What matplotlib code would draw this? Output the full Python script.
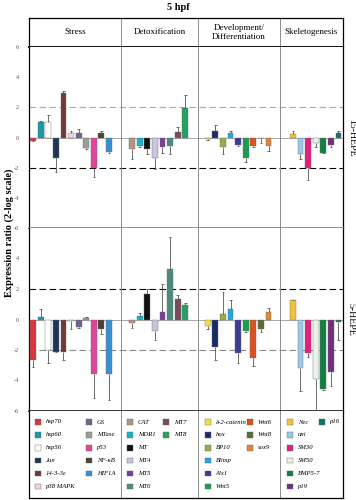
import matplotlib.pyplot as plt
from matplotlib.patches import Rectangle
import numpy as np

plt.rcParams['font.family'] = ['Liberation Serif', 'DejaVu Serif']

# ---------------------------------------------------------------------
# data
# ---------------------------------------------------------------------
GROUPS = ["Stress", "Detoxification", "Development/\nDifferentiation", "Skeletogenesis"]

stress_genes = ["hsp70", "hsp60", "hsp56", "Jun", "14-3-3ε", "p38 MAPK",
                "GS", "MTase", "p53", "NF-κB", "HIF1A"]
stress_colors = ["#d8363f", "#1a9aa6", "#ffffff", "#1f3558", "#6e3b36", "#f1d3de",
                 "#6a6590", "#9c9c9c", "#e2449b", "#4a4232", "#3a8fd2"]
stress_15 = [-0.2, 1.0, 1.05, -1.35, 2.95, 0.27, 0.3, -0.68, -2.0, 0.27, -0.95]
stress_15_err = [0.05, 0.1, 0.45, 0.95, 0.1, 0.15, 0.28, 0.05, 0.6, 0.18, 0.1]
stress_5 = [-2.65, 0.15, -2.0, -2.1, -2.15, -0.08, -0.5, 0.08, -3.57, -0.62, -3.57]
stress_5_err = [0.45, 0.55, 0.87, 0.05, 0.5, 0.52, 0.05, 0.07, 1.6, 0.33, 1.7]

detox_genes = ["CAT", "MDR1", "MT", "MT4", "MT5", "MT6", "MT7", "MT8"]
detox_colors = ["#b39383", "#1ab2c9", "#111111", "#c9c5dd", "#7b3d9b",
                "#4b8b80", "#7a4a5c", "#22a262"]
detox_15 = [-0.75, -0.57, -0.75, -1.35, -0.65, -0.57, 0.38, 1.97]
detox_15_err = [0.65, 0.08, 0.37, 0.75, 0.35, 0.53, 0.32, 0.88]
detox_5 = [-0.24, 0.2, 1.64, -0.77, 0.46, 3.33, 1.36, 0.92]
detox_5_err = [0.31, 0.24, 0.38, 0.55, 1.89, 2.07, 0.22, 0.18]

dev_genes = ["δ-2-catenin", "hox", "BP10", "Blimp", "Alx1", "Wnt5",
             "Wnt6", "Wnt8", "sox9"]
dev_colors = ["#f0e23e", "#1b2a68", "#92b044", "#22a8e0", "#3b3c98",
              "#18a052", "#d85222", "#5a6a32", "#e48332"]
dev_15 = [-0.13, 0.46, -0.64, 0.31, -0.53, -1.35, -0.57, -0.05, -0.57]
dev_15_err = [0.05, 0.4, 0.44, 0.11, 0.03, 0.28, 0.08, 0.3, 0.33]
dev_5 = [-0.4, -1.78, 0.37, 0.66, -2.2, -0.77, -2.52, -0.61, 0.48]
dev_5_err = [0.2, 0.85, 1.43, 0.64, 0.65, 0.05, 0.55, 0.19, 0.26]

skel_genes = ["Nec", "uni", "SM30", "SM50", "BMP5-7", "p19", "p16"]
skel_colors = ["#f2c433", "#9ac9ea", "#e2207c", "#e9f1e9", "#108142",
               "#71307f", "#12706f"]
skel_15 = [0.24, -1.12, -2.0, -0.35, -1.0, -0.53, 0.27]
skel_15_err = [0.18, 0.28, 0.83, 0.3, 0.05, 0.07, 0.19]
skel_5 = [1.25, -3.18, -2.2, -3.9, -4.56, -3.47, -0.18]
skel_5_err = [0.05, 1.49, 0.28, 2.08, 0.05, 0.87, 1.14]

genes = [stress_genes, detox_genes, dev_genes, skel_genes]
colors = [stress_colors, detox_colors, dev_colors, skel_colors]
vals_15 = [stress_15, detox_15, dev_15, skel_15]
errs_15 = [stress_15_err, detox_15_err, dev_15_err, skel_15_err]
vals_5 = [stress_5, detox_5, dev_5, skel_5]
errs_5 = [stress_5_err, detox_5_err, dev_5_err, skel_5_err]

# ---------------------------------------------------------------------
# layout (pixel-like units along x)
# ---------------------------------------------------------------------
COL_W = [92, 77, 82, 63]
FIRST = [4, 11, 9.7, 12.8]
SLOT = 7.6
BAR_W = 5.8
XMAX = sum(COL_W)
col_left = np.concatenate([[0], np.cumsum(COL_W)[:-1]])
bounds = np.cumsum(COL_W)[:-1]
SEP = "#8c8c8c"

fig = plt.figure(figsize=(3.56, 5.0), dpi=100)
L, W = 29 / 356, 314 / 356


def band(top, bottom):
    return [L, 1 - bottom / 500, W, (bottom - top) / 500]


ax_head = fig.add_axes(band(18, 47))
ax_up = fig.add_axes(band(47, 228))
ax_lo = fig.add_axes(band(228, 411))
ax_leg = fig.add_axes(band(411, 498))

# header
ax_head.set_xlim(0, XMAX)
ax_head.set_ylim(0, 1)
ax_head.set_xticks([])
ax_head.set_yticks([])
for b in bounds:
    ax_head.axvline(b, color=SEP, lw=0.7)
for g, name in enumerate(GROUPS):
    ax_head.text(col_left[g] + COL_W[g] / 2, 0.5, name, ha="center", va="center",
                 fontsize=6.5, linespacing=1.1)
for s in ax_head.spines.values():
    s.set_color("black")
    s.set_linewidth(0.9)
ax_head.spines["bottom"].set_linewidth(1.3)


def draw_panel(ax, vals, errs, label, yticks, dash_top, dash_bot):
    ax.set_xlim(0, XMAX)
    ax.set_ylim(-6, 6)
    ax.axhline(0, color="#9a9a9a", lw=0.6, zorder=1)
    ax.axhline(2, color=dash_top, lw=0.8, ls=(0, (6, 3)), zorder=1)
    ax.axhline(-2, color=dash_bot, lw=0.8, ls=(0, (6, 3)), zorder=1)
    for b in bounds:
        ax.axvline(b, color=SEP, lw=0.7, zorder=1)
    for g in range(len(GROUPS)):
        xs = col_left[g] + FIRST[g] + SLOT * np.arange(len(vals[g]))
        v = np.array(vals[g])
        e = np.array(errs[g])
        ax.bar(xs, v, width=BAR_W, color=colors[g], edgecolor="#707070",
               linewidth=0.3, zorder=3)
        sign = np.where(v < 0, -1, 1)
        ends = v + sign * e
        ax.vlines(xs, v, ends, color="#555555", lw=0.6, zorder=4)
        ax.hlines(ends, xs - 1.3, xs + 1.3, color="#555555", lw=0.6, zorder=4)
    ax.set_xticks([])
    ax.set_yticks(yticks)
    ax.set_yticklabels([str(t) for t in yticks])
    ax.tick_params(axis="y", length=0, pad=7, labelsize=4.5, labelcolor="#555555")
    ax.text(1.012, 0.5, label, transform=ax.transAxes, rotation=270,
            ha="left", va="center", fontsize=7)
    for s in ("left", "right"):
        ax.spines[s].set_color("black")
        ax.spines[s].set_linewidth(0.9)


draw_panel(ax_up, vals_15, errs_15, "15-HEPE", [-6, -4, -2, 0, 2, 4, 6],
           "#aaaaaa", "black")
ax_up.spines["top"].set_visible(False)
ax_up.spines["bottom"].set_color("#8a8a8a")
ax_up.spines["bottom"].set_linewidth(1.3)

draw_panel(ax_lo, vals_5, errs_5, "5-HEPE", [-6, -4, -2, 0, 2, 4],
           "black", "#888888")
ax_lo.spines["top"].set_visible(False)
ax_lo.spines["bottom"].set_color("black")
ax_lo.spines["bottom"].set_linewidth(1.1)

# legend
ax_leg.set_xlim(0, XMAX)
ax_leg.set_ylim(87, 0)
ax_leg.set_xticks([])
ax_leg.set_yticks([])
for b in bounds:
    ax_leg.axvline(b, color=SEP, lw=0.7)
for s in ax_leg.spines.values():
    s.set_color("black")
    s.set_linewidth(0.9)
ax_leg.spines["top"].set_visible(False)

SUB_X = [(6.3, 57.3), (6.3, 42.3), (7.3, 49.3), (7.3, 39.3)]
ROW0, ROW_STEP, PSZ = 11, 12.9, 5.4
for g in range(len(GROUPS)):
    for i, (name, c) in enumerate(zip(genes[g], colors[g])):
        sub, row = divmod(i, 6)
        x0 = col_left[g] + SUB_X[g][sub]
        y0 = ROW0 + ROW_STEP * row
        ax_leg.add_patch(Rectangle((x0, y0 - PSZ / 2), PSZ, PSZ, facecolor=c,
                                   edgecolor="#666666", lw=0.3))
        ax_leg.text(x0 + 10.5, y0, name, ha="left", va="center",
                    fontsize=4.8, style="italic")

fig.text(0.5, 1 - 7 / 500, "5 hpf", ha="center", va="center",
         fontsize=7.5, fontweight="bold")
fig.text(9 / 356, 0.535, "Expression ratio (2-log scale)", rotation=90,
         ha="center", va="center", fontsize=7.5, fontweight="bold")

fig.savefig("out.png", dpi=100)
